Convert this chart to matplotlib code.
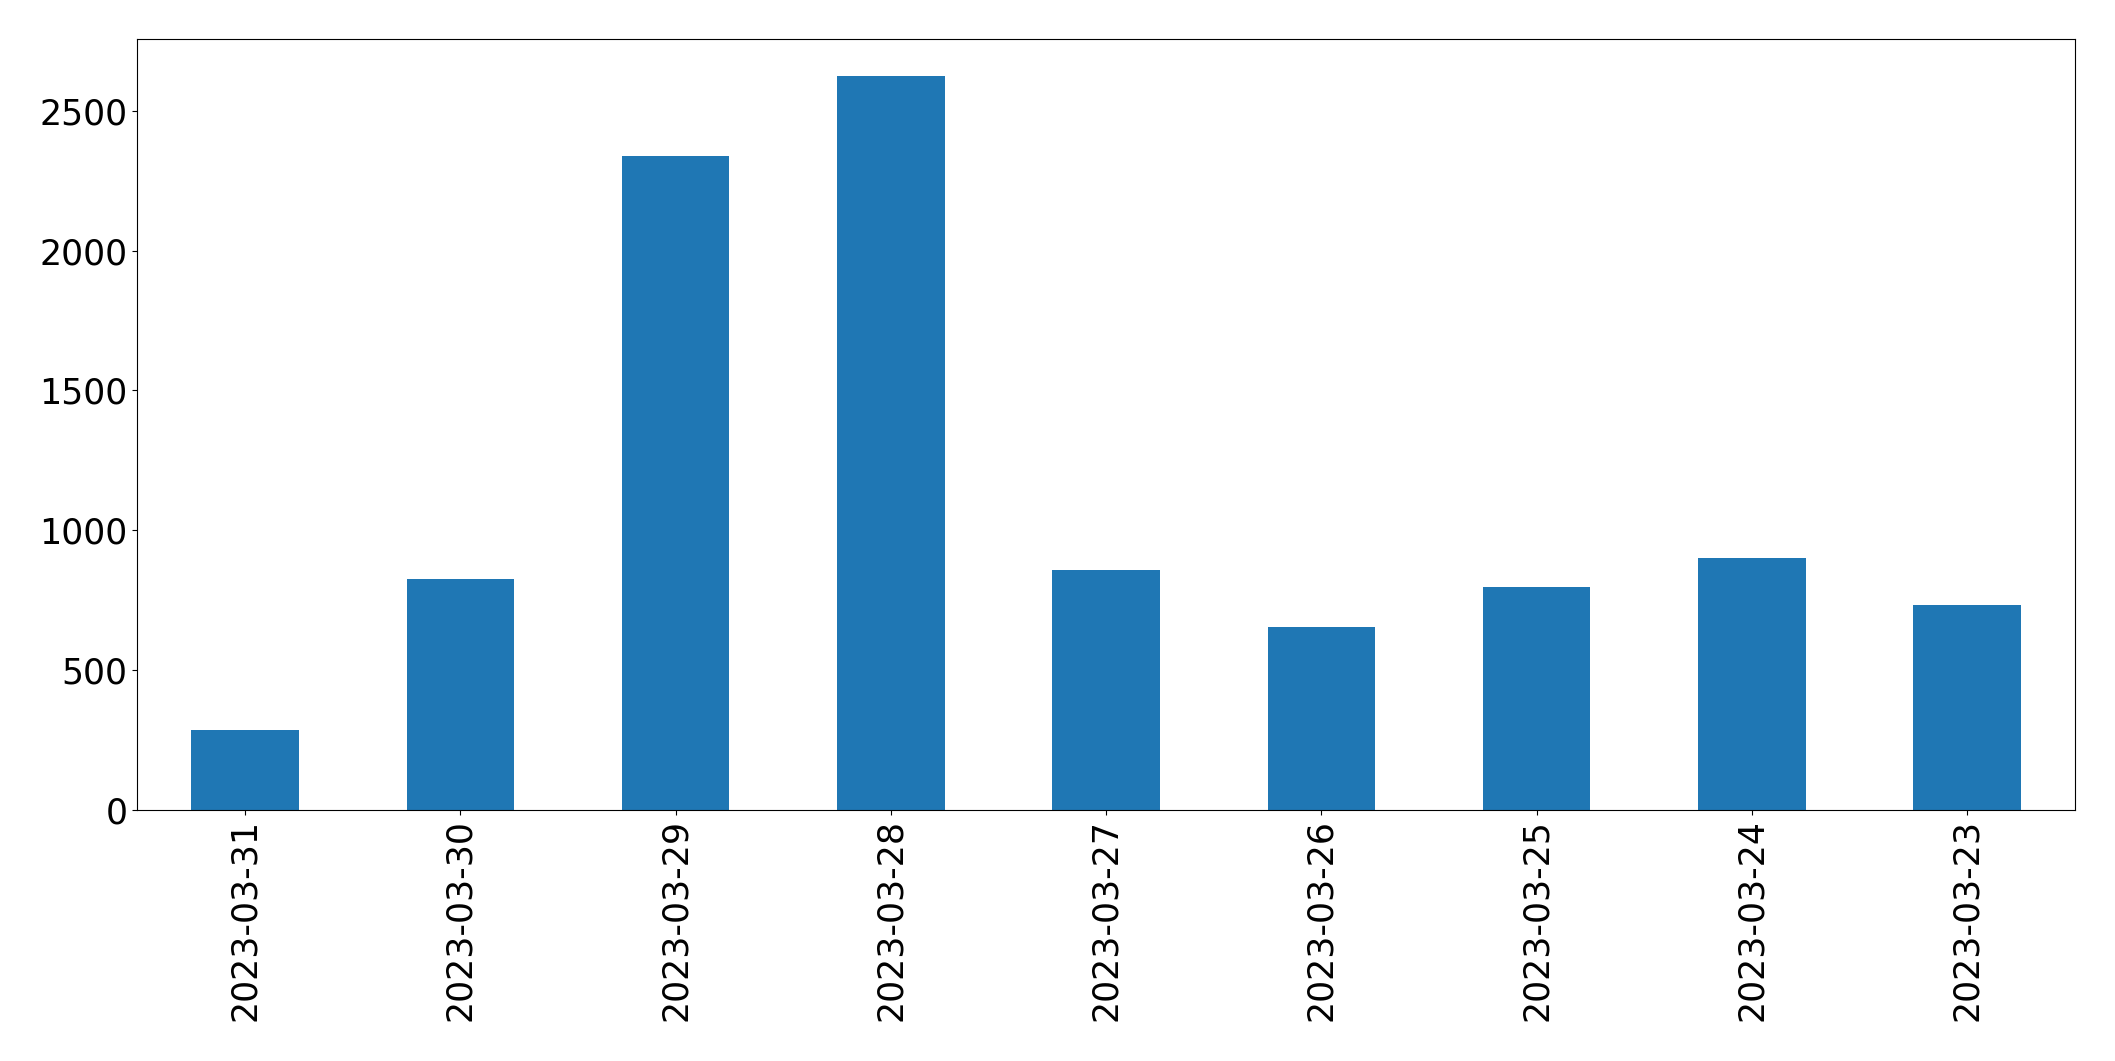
import numpy as np
import matplotlib
matplotlib.use("Agg")
import matplotlib.pyplot as plt

dates = ["2023-03-31", "2023-03-30", "2023-03-29", "2023-03-28", "2023-03-27",
         "2023-03-26", "2023-03-25", "2023-03-24", "2023-03-23"]
counts = [283, 824, 2339, 2625, 856, 652, 795, 899, 731]

fig, ax = plt.subplots(figsize=(21.15, 10.61), dpi=100)
x = np.arange(len(dates))
ax.bar(x, counts, width=0.5, color="#1f77b4")
ax.set_xlim(-0.5, len(dates) - 0.5)
ax.set_ylim(0, max(counts) * 1.05)
ax.set_xticks(x)
ax.set_xticklabels(dates, rotation=90)
ax.tick_params(labelsize=25)

fig.subplots_adjust(left=0.065, right=0.981, top=0.963, bottom=0.237)
fig.savefig("out.png")
